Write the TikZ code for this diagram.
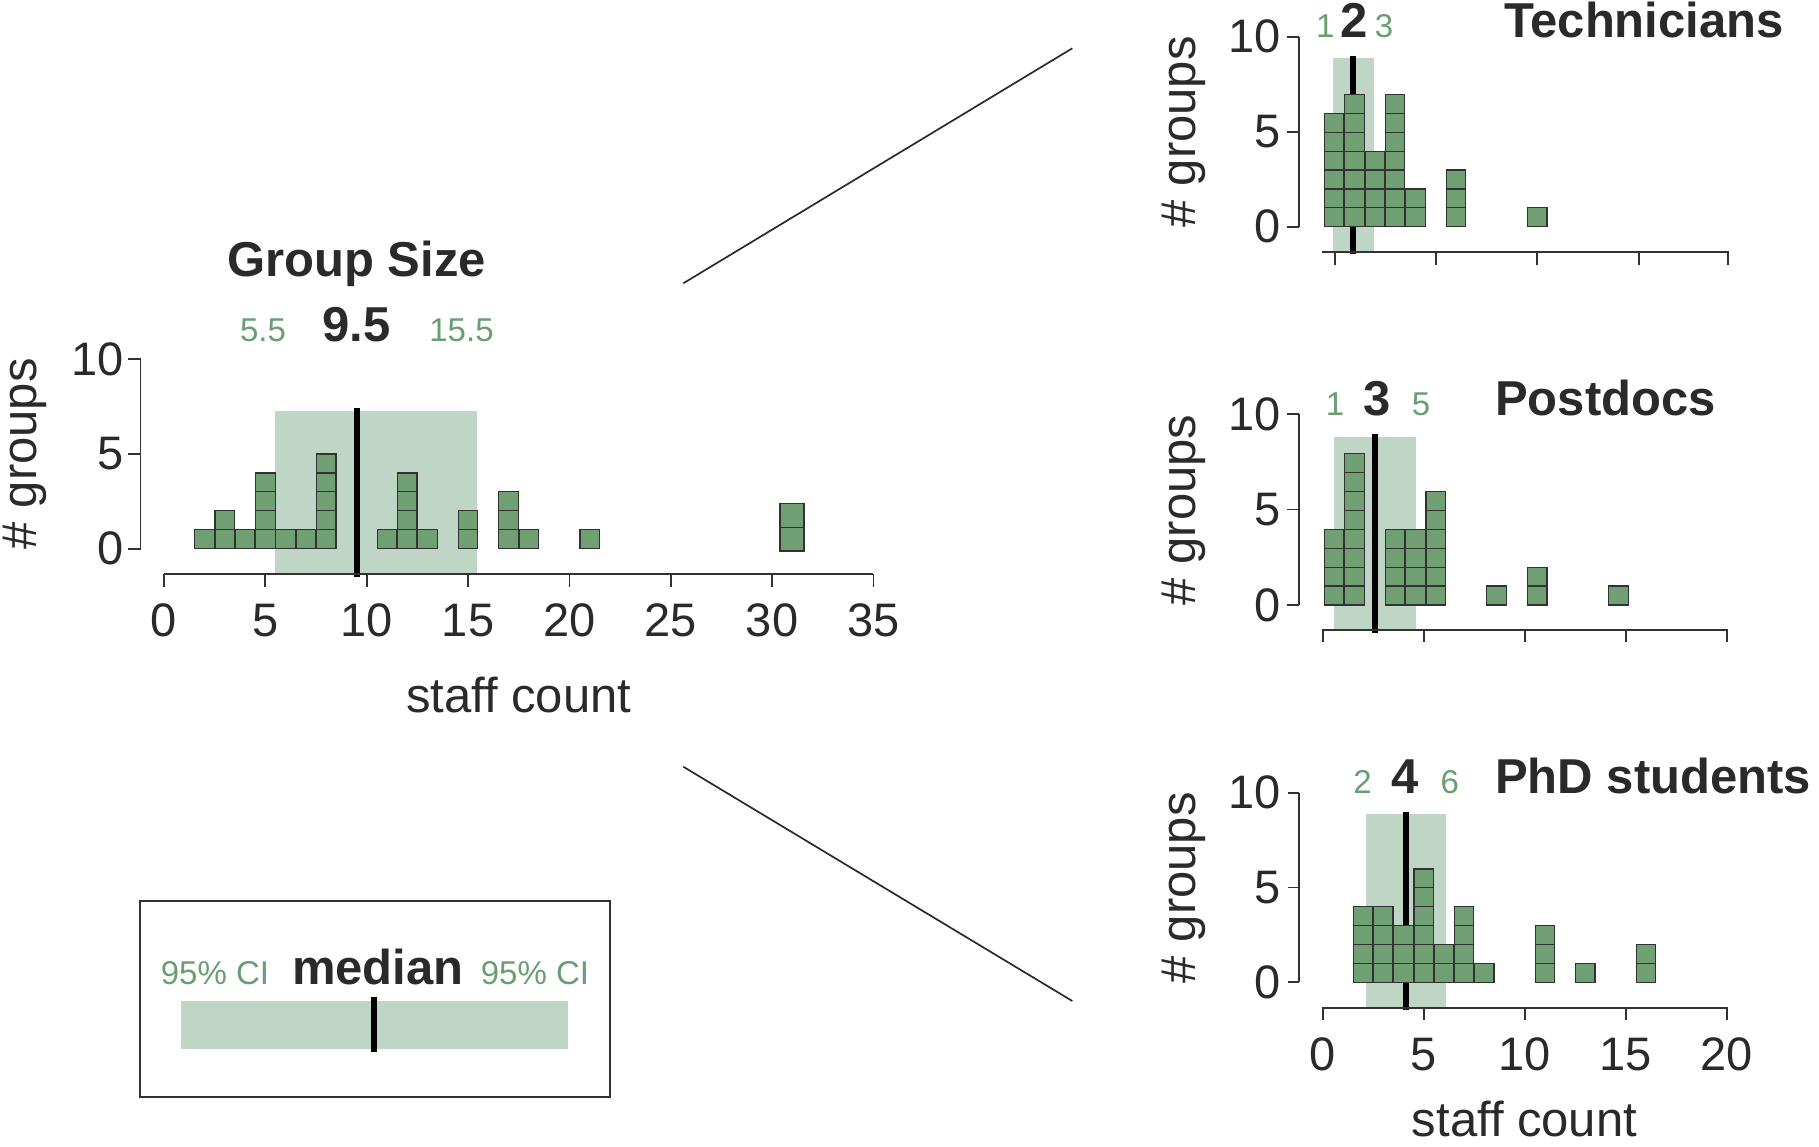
\documentclass[tikz,border=0pt]{standalone}
\usepackage{fontspec}
\setmainfont{Liberation Sans}
\definecolor{sqfill}{RGB}{111,159,115}
\definecolor{sqline}{RGB}{50,50,50}
\definecolor{bandc}{RGB}{191,213,197}
\definecolor{cig}{RGB}{106,158,114}
\definecolor{txt}{RGB}{42,42,42}
\definecolor{axisc}{RGB}{50,50,50}
\newcommand{\dotstack}[5]{%
  \foreach \sqi in {1,...,#2}{%
    \draw[sq] ({#1-#4/2},{#3-(\sqi-1)*#5}) rectangle ({#1+#4/2},{#3-\sqi*#5});
  }%
}
\tikzset{
  sq/.style={fill=sqfill, draw=sqline, line width=1.2pt},
  band/.style={fill=bandc, draw=none},
  medline/.style={draw=black, line width=6pt},
  axis/.style={draw=axisc, line width=1.8pt},
  ticklab/.style={font=\fontsize{47}{50}\selectfont, text=txt, inner sep=0pt},
  ttl/.style={font=\bfseries\fontsize{49}{52}\selectfont, text=txt, inner sep=0pt},
  medlab/.style={font=\bfseries\fontsize{49}{52}\selectfont, text=txt, inner sep=0pt, anchor=base},
  cilab/.style={font=\fontsize{33}{36}\selectfont, text=cig, inner sep=0pt, anchor=base},
  ylab/.style={font=\fontsize{49}{52}\selectfont, text=txt, inner sep=0pt, rotate=90, anchor=base},
  xlab/.style={font=\fontsize{49}{52}\selectfont, text=txt, inner sep=0pt, anchor=base},
  conn/.style={draw=txt, line width=1.7pt},
  legbox/.style={draw=axisc, line width=2pt},
}
\begin{document}
\begin{tikzpicture}[x=1pt,y=-1pt]
\useasboundingbox (0,0) rectangle (1819,1146);

% ================= main plot: Group Size =================
\fill[band] (274.7,410.7) rectangle (477.3,574);
\draw[medline] (356.6,408.3) -- (356.6,576.7);
\foreach \v/\n in {2/1,3/2,4/1,5/4,6/1,7/1,8/5,11/1,12/4,13/1,15/2,17/3,18/1,21/1}{
  \dotstack{164+20.27*\v}{\n}{548.7}{19.5}{18.94}
}
\draw[sq] (780,551) rectangle (804,527.3);
\draw[sq] (780,527.3) rectangle (804,503.3);
% axes
\draw[axis] (164,574) -- (873.3,574);
\foreach \v in {0,5,...,35}{
  \draw[axis] ({164+20.27*\v},574) -- ({164+20.27*\v},586.5);
  \node[ticklab, anchor=base] (mx\v) at ({164+20.27*\v},636.7) {\v};
}
\draw[axis] (140.5,359.3) -- (140.5,548.7);
\foreach \v in {0,5,10}{
  \draw[axis] (128,{548.7-18.94*\v}) -- (140.5,{548.7-18.94*\v});
  \node[ticklab, anchor=east] (my\v) at (123.5,{548.7-18.94*\v}) {\v};
}
\node[ylab] (myl) at (36.5,453.7) {\# groups};
\node[xlab] (mxl) at (518.7,712) {staff count};
\node[ttl, anchor=base] (mttl) at (356.5,276) {Group Size};
\node[medlab] (mmed) at (356.6,341.7) {9.5};
\node[cilab] (mcil) at (263,341.7) {5.5};
\node[cilab] (mcir) at (461.5,341.7) {15.5};

% ================= Technicians =================
\fill[band] (1333.3,58.3) rectangle (1373.7,251.7);
\draw[medline] (1353.3,56) -- (1353.3,254.3);
\foreach \c/\n in {0/6,1/7,2/4,3/7,4/2,6/3,10/1}{
  \dotstack{1334.2+20.3*\c}{\n}{226.7}{19.5}{18.9}
}
\draw[axis] (1322,251.7) -- (1729,251.7);
\foreach \x in {1335,1436,1537,1639,1728}{
  \draw[axis] (\x,251.7) -- (\x,265);
}
\draw[axis] (1299.3,36.7) -- (1299.3,226.7);
\foreach \v in {0,5,10}{
  \draw[axis] (1287,{226.7-19*\v}) -- (1299.3,{226.7-19*\v});
  \node[ticklab, anchor=east] (ty\v) at (1281.3,{226.7-19*\v}) {\v};
}
\node[ylab] (tyl) at (1195,131.7) {\# groups};
\node[ttl, anchor=base west] (tttl) at (1504,37) {Technicians};
\node[medlab] (tmed) at (1353.8,37) {2};
\node[cilab] (tcil) at (1325.2,37) {1};
\node[cilab] (tcir) at (1384,37) {3};

% ================= Postdocs =================
\fill[band] (1333.5,436.7) rectangle (1415.5,630);
\draw[medline] (1375,434) -- (1375,632.7);
\foreach \c/\n in {0/4,1/8,3/4,4/4,5/6,8/1,10/2,14/1}{
  \dotstack{1334.2+20.3*\c}{\n}{605}{19.5}{18.95}
}
\draw[axis] (1322,630) -- (1728,630);
\foreach \v in {0,5,10,15,20}{
  \draw[axis] ({1322.7+20.2*\v},630) -- ({1322.7+20.2*\v},642);
}
\draw[axis] (1299,414) -- (1299,605);
\foreach \v in {0,5,10}{
  \draw[axis] (1287,{605-19.1*\v}) -- (1299,{605-19.1*\v});
  \node[ticklab, anchor=east] (py\v) at (1281.3,{605-19.1*\v}) {\v};
}
\node[ylab] (pyl) at (1195,510) {\# groups};
\node[ttl, anchor=base west] (pttl) at (1495,415) {Postdocs};
\node[medlab] (pmed) at (1376.7,415) {3};
\node[cilab] (pcil) at (1335,415) {1};
\node[cilab] (pcir) at (1421,415) {5};

% ================= PhD students =================
\fill[band] (1365.7,814.3) rectangle (1446,1007.7);
\draw[medline] (1405.8,811.7) -- (1405.8,1010);
\foreach \v/\n in {2/4,3/4,4/3,5/6,6/2,7/4,8/1,11/3,13/1,16/2}{
  \dotstack{1322.7+20.2*\v}{\n}{982.3}{19.5}{18.9}
}
\draw[axis] (1322,1007.7) -- (1727.5,1007.7);
\foreach \v in {0,5,10,15,20}{
  \draw[axis] ({1322.7+20.2*\v},1007.7) -- ({1322.7+20.2*\v},1020);
  \node[ticklab, anchor=base] (dx\v) at ({1322.7+20.2*\v},1070.4) {\v};
}
\draw[axis] (1299.3,792.7) -- (1299.3,982.3);
\foreach \v in {0,5,10}{
  \draw[axis] (1287.7,{982.3-18.96*\v}) -- (1299.3,{982.3-18.96*\v});
  \node[ticklab, anchor=east] (dy\v) at (1281.3,{982.3-18.96*\v}) {\v};
}
\node[ylab] (dyl) at (1195,887.7) {\# groups};
\node[xlab] (dxl) at (1524.5,1136) {staff count};
\node[ttl, anchor=base west] (dttl) at (1495,793) {PhD students};
\node[medlab] (dmed) at (1405.5,793.3) {4};
\node[cilab] (dcil) at (1362.5,793.3) {2};
\node[cilab] (dcir) at (1449.7,793.3) {6};

% ================= connectors =================
\coordinate (c1a) at (683.3,283.3);
\coordinate (c1b) at (1072.3,48.3);
\coordinate (c2a) at (683.3,766.7);
\coordinate (c2b) at (1072.3,1001);
\draw[conn] (c1a) -- (c1b);
\draw[conn] (c2a) -- (c2b);

% ================= legend =================
\draw[legbox] (140,900.7) rectangle (610,1096.7);
\fill[band] (181,1000.7) rectangle (568.3,1049.3);
\draw[medline] (374.3,997.3) -- (374.3,1052.3);
\node[cilab] (lcil) at (215,984.3) {95\% CI};
\node[medlab] (lmed) at (377.8,984.3) {median};
\node[cilab] (lcir) at (535,984.3) {95\% CI};
\end{tikzpicture}
\end{document}
